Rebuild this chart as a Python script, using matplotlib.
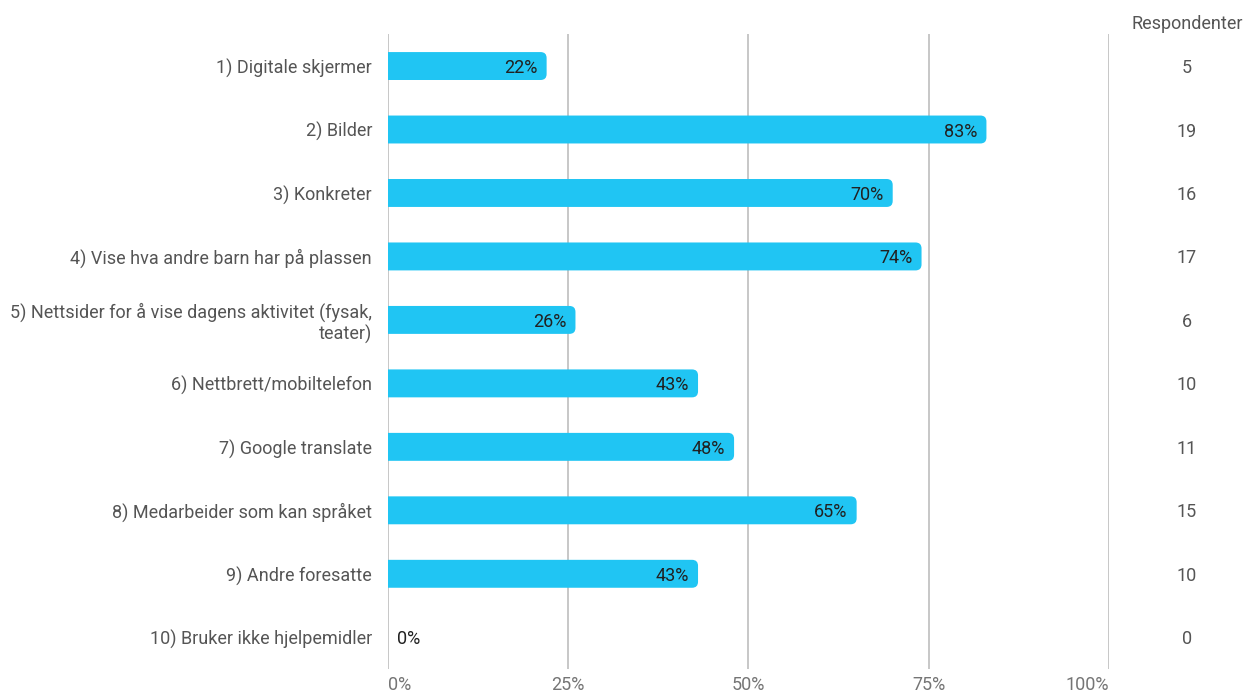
import matplotlib.pyplot as plt
import matplotlib.transforms as mtransforms
from matplotlib.patches import FancyBboxPatch

plt.rcParams['font.family'] = ['Roboto', 'DejaVu Sans']

# data
categories = [
    '1) Digitale skjermer',
    '2) Bilder',
    '3) Konkreter',
    '4) Vise hva andre barn har på plassen',
    '5) Nettsider for å vise dagens aktivitet (fysak,\nteater)',
    '6) Nettbrett/mobiltelefon',
    '7) Google translate',
    '8) Medarbeider som kan språket',
    '9) Andre foresatte',
    '10) Bruker ikke hjelpemidler',
]
percent = [22, 83, 70, 74, 26, 43, 48, 65, 43, 0]
respondents = [5, 19, 16, 17, 6, 10, 11, 15, 10, 0]
xticks = [0, 25, 50, 75, 100]

bar_color = '#20c5f3'
W, H = 1245, 695
x0, x1, ybot, ytop = 388, 1109, 26, 660.7

fig = plt.figure(figsize=(W / 100, H / 100), dpi=100)
ax = fig.add_axes([x0 / W, ybot / H, (x1 - x0) / W, (ytop - ybot) / H])

ypos = list(range(len(categories)))
bh = 0.44
ax.set_xlim(0, 100)
ax.set_ylim(len(categories) - 0.5, -0.5)

# rounded right ends; the left end starts past 0 and is clipped by the axes
xpx = (x1 - x0) / 100
ypx = (ytop - ybot) / len(categories)
r = 6 / xpx
aspect = xpx / ypx
for y, v in zip(ypos, percent):
    if v > 0:
        ax.add_patch(FancyBboxPatch((-3, y - bh / 2), v + 3, bh,
                                    boxstyle=f'round,pad=0,rounding_size={r}',
                                    mutation_aspect=aspect,
                                    fc=bar_color, ec='none', zorder=3))

for y, v in zip(ypos, percent):
    if v > 0:
        ax.text(v - 1.3, y, f'{v}%', ha='right', va='center_baseline',
                fontsize=13, color='#212121', zorder=4)
    else:
        ax.text(1.3, y, f'{v}%', ha='left', va='center_baseline',
                fontsize=13, color='#212121', zorder=4)

ax.set_yticks(ypos)
ax.set_yticklabels(categories, fontsize=13, color='#555555', ha='right')
ax.tick_params(axis='y', length=0, pad=11.5)
ax.set_xticks(xticks)
ax.set_xticklabels([f'{t}%' for t in xticks], fontsize=13, color='#757575')
ax.tick_params(axis='x', length=0, pad=5)
labels = ax.get_xticklabels()
labels[0].set_ha('left')
labels[-1].set_ha('right')
ax.grid(axis='x', color='#bdbdbd', linewidth=1.2, zorder=0)
for s in ax.spines.values():
    s.set_visible(False)

# respondents column, x in figure coords, y in data coords
xr = 1187 / W
trans = mtransforms.blended_transform_factory(fig.transFigure, ax.transData)
fig.text(xr, 1 - 24 / H, 'Respondenter', ha='center', va='center',
         fontsize=13, color='#555555')
for y, n in zip(ypos, respondents):
    ax.text(xr, y, str(n), transform=trans, ha='center', va='center_baseline',
            fontsize=13, color='#555555', clip_on=False)

fig.savefig('out.png', dpi=100)
